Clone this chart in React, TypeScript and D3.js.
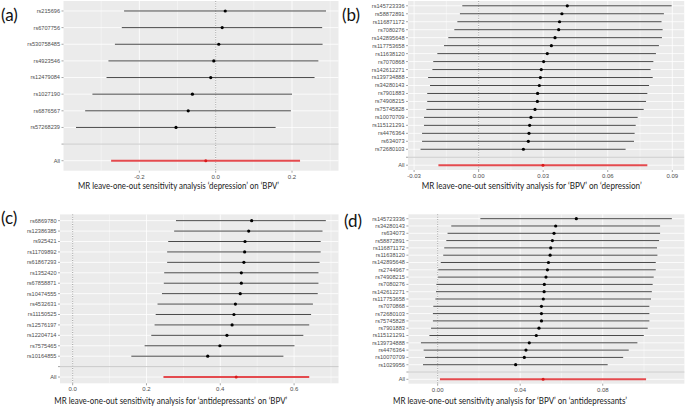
import React from "react";
import * as d3 from "d3";

// ---------- Panel (a): 'depression' on 'BPV' ----------
const aSnps = ["rs215696", "rs6707756", "rs530758485", "rs4923546", "rs12479084", "rs1027190", "rs6876567", "rs57268239"];
const aBeta = [0.025, 0.017, 0.008, -0.005, -0.013, -0.061, -0.072, -0.104];
const aLo = [-0.240, -0.246, -0.264, -0.281, -0.286, -0.323, -0.342, -0.366];
const aHi = [0.289, 0.279, 0.280, 0.269, 0.259, 0.200, 0.197, 0.157];
const aAll = [-0.026, -0.274, 0.221];
const aTicks = [-0.2, 0.0, 0.2];
const aMinor = [-0.3, -0.1, 0.1, 0.3];

// ---------- Panel (b): 'BPV' on 'depression' ----------
const bSnps = ["rs145723336", "rs58872891", "rs116871172", "rs7080276", "rs142895648", "rs117753658", "rs11638120", "rs7070868", "rs142612271", "rs139734888", "rs34280143", "rs7901883", "rs74908215", "rs75745828", "rs10070709", "rs115121291", "rs4476364", "rs634073", "rs72680103"];
const bBeta = [0.0412, 0.0387, 0.0376, 0.0372, 0.0355, 0.0338, 0.0319, 0.0302, 0.0291, 0.0287, 0.0282, 0.0274, 0.0273, 0.0262, 0.0243, 0.0237, 0.0234, 0.0231, 0.0208];
const bLo = [-0.0076, -0.0087, -0.0099, -0.0113, -0.0141, -0.0161, -0.0192, -0.0211, -0.0215, -0.0235, -0.0226, -0.0239, -0.0239, -0.0243, -0.0254, -0.0254, -0.0263, -0.0263, -0.0270];
const bHi = [0.0897, 0.0861, 0.0850, 0.0855, 0.0852, 0.0838, 0.0824, 0.0812, 0.0799, 0.0809, 0.0792, 0.0784, 0.0778, 0.0767, 0.0739, 0.0730, 0.0725, 0.0722, 0.0683];
const bAll = [0.0299, -0.0187, 0.0784];
const bTicks = [-0.03, 0.0, 0.03, 0.06, 0.09];
const bMinor = [-0.015, 0.015, 0.045, 0.075];

// ---------- Panel (c): 'antidepressants' on 'BPV' ----------
const cSnps = ["rs6869780", "rs12386385", "rs925421", "rs11709892", "rs61867293", "rs1352420", "rs67858871", "rs10474555", "rs4532631", "rs11150525", "rs12576197", "rs12204714", "rs7575465", "rs10164855"];
const cBeta = [0.485, 0.477, 0.467, 0.466, 0.464, 0.457, 0.457, 0.454, 0.441, 0.437, 0.432, 0.418, 0.399, 0.366];
const cLo = [0.280, 0.275, 0.259, 0.256, 0.256, 0.248, 0.247, 0.242, 0.230, 0.225, 0.222, 0.213, 0.195, 0.159];
const cHi = [0.686, 0.677, 0.672, 0.672, 0.669, 0.666, 0.666, 0.664, 0.651, 0.646, 0.641, 0.625, 0.601, 0.571];
const cAll = [0.443, 0.246, 0.641];
const cTicks = [0.0, 0.2, 0.4, 0.6];
const cMinor = [0.1, 0.3, 0.5, 0.7];

// ---------- Panel (d): 'BPV' on 'antidepressants' ----------
const dSnps = ["rs145723336", "rs34280143", "rs634073", "rs58872891", "rs116871172", "rs11638120", "rs142895648", "rs2744967", "rs74908215", "rs7080276", "rs142612271", "rs117753658", "rs7070868", "rs72680103", "rs75745828", "rs7901883", "rs115121291", "rs139734888", "rs4476364", "rs10070709", "rs1029956"];
const dBeta = [0.0672, 0.0572, 0.0564, 0.0556, 0.0548, 0.0545, 0.0537, 0.0532, 0.0525, 0.0517, 0.0516, 0.0512, 0.0503, 0.0503, 0.0503, 0.0491, 0.0478, 0.0444, 0.0428, 0.0420, 0.0378];
const dLo = [0.0207, 0.0066, 0.0048, 0.0042, 0.0032, 0.0027, 0.0015, 0.0003, 0.0002, -0.0006, -0.0008, -0.0011, -0.0021, -0.0023, -0.0023, -0.0032, -0.0040, -0.0081, -0.0068, -0.0061, -0.0071];
const dHi = [0.1135, 0.1078, 0.1078, 0.1073, 0.1063, 0.1065, 0.1057, 0.1057, 0.1047, 0.1042, 0.1038, 0.1034, 0.1026, 0.1026, 0.1026, 0.1018, 0.0999, 0.0968, 0.0926, 0.0899, 0.0824];
const dAll = [0.0511, 0.0011, 0.1010];
const dTicks = [0.0, 0.04, 0.08];
const dMinor = [0.02, 0.06, 0.1];

const TICK_FONT = "'Liberation Sans', Arial, sans-serif";
const TITLE_FONT = "Lato, 'Open Sans', sans-serif";

type PanelProps = {
  snps: string[]; beta: number[]; lo: number[]; hi: number[]; all: number[];
  ticks: number[]; minor: number[]; fmt: string;
  x0: number; x1: number; y0: number; y1: number;
  label: string; lx: number; ly: number;
  title: string; tx: number; ty: number; tw: number;
};

function Panel(p: PanelProps) {
  const vals = [...p.lo, ...p.hi, p.all[1], p.all[2], 0];
  const [mn, mx] = d3.extent(vals) as [number, number];
  const pad = (mx - mn) * 0.05;
  const x = d3.scaleLinear().domain([mn - pad, mx + pad]).range([p.x0, p.x1]);
  const cats = [...p.snps, "", "All"];
  const y = d3.scalePoint<string>().domain(cats).range([p.y0, p.y1]).padding(0.6);
  const f = d3.format(p.fmt);
  const fmt = (v: number) => f(v).replace("\u2212", "-");
  const yAll = y("All")!;
  const yBlank = y("")!;
  return (
    <g>
      <rect x={p.x0} y={p.y0} width={p.x1 - p.x0} height={p.y1 - p.y0} fill="#EBEBEB" />
      {p.minor.filter(v => x(v) > p.x0 && x(v) < p.x1).map(v => (
        <line key={"mn" + v} x1={x(v)} x2={x(v)} y1={p.y0} y2={p.y1} stroke="#fff" strokeWidth={0.4} />
      ))}
      {p.ticks.map(v => (
        <line key={"mj" + v} x1={x(v)} x2={x(v)} y1={p.y0} y2={p.y1} stroke="#fff" strokeWidth={0.8} />
      ))}
      {cats.map(c => (
        <line key={"h" + c} x1={p.x0} x2={p.x1} y1={y(c)} y2={y(c)} stroke="#fff" strokeWidth={0.8} />
      ))}
      <line x1={x(0)} x2={x(0)} y1={p.y0} y2={p.y1} stroke="#8a8a8a" strokeWidth={0.8} strokeDasharray="1,1.4" />
      <line x1={p.x0} x2={p.x1} y1={yBlank} y2={yBlank} stroke="#bdbdbd" strokeWidth={0.8} />
      {p.snps.map((s, i) => (
        <g key={s}>
          <line x1={x(p.lo[i])} x2={x(p.hi[i])} y1={y(s)} y2={y(s)} stroke="#404040" strokeWidth={0.95} />
          <circle cx={x(p.beta[i])} cy={y(s)} r={1.6} fill="#000" />
        </g>
      ))}
      <line x1={x(p.all[1])} x2={x(p.all[2])} y1={yAll} y2={yAll} stroke="#e44a4e" strokeWidth={1.9} />
      <circle cx={x(p.all[0])} cy={yAll} r={1.5} fill="#d91a1a" />
      {cats.map(c => (
        <g key={"yt" + c}>
          <line x1={p.x0 - 2} x2={p.x0} y1={y(c)} y2={y(c)} stroke="#4d4d4d" strokeWidth={0.5} />
          <text x={p.x0 - 3.5} y={y(c)} dy="0.35em" textAnchor="end" fontSize={5.6} fill="#4d4d4d" fontFamily={TICK_FONT}>{c}</text>
        </g>
      ))}
      {p.ticks.map(v => (
        <g key={"xt" + v}>
          <line x1={x(v)} x2={x(v)} y1={p.y1} y2={p.y1 + 2} stroke="#4d4d4d" strokeWidth={0.5} />
          <text x={x(v)} y={p.y1 + 7.8} textAnchor="middle" fontSize={6} fill="#4d4d4d" fontFamily={TICK_FONT}>{fmt(v)}</text>
        </g>
      ))}
      <text x={p.tx} y={p.ty} textAnchor="middle" fontSize={8.6} fill="#1a1a1a" fontFamily={TITLE_FONT}
        textLength={p.tw} lengthAdjust="spacingAndGlyphs">{p.title}</text>
      <text x={p.lx} y={p.ly} fontSize={17} fill="#111" fontFamily={TITLE_FONT}>{p.label}</text>
    </g>
  );
}

export default function App() {
  return (
    <svg width={685} height={408} style={{ position: "absolute", left: 0, top: 0, background: "#fff" }}>
      <Panel snps={aSnps} beta={aBeta} lo={aLo} hi={aHi} all={aAll} ticks={aTicks} minor={aMinor} fmt=".1f"
        x0={63.5} x1={338.5} y0={1} y1={170.7}
        label="(a)" lx={1} ly={21}
        title={"MR leave-one-out sensitivity analysis \u2018depression\u2019 on \u2018BPV\u2019"} tx={178.5} ty={189} tw={201} />
      <Panel snps={bSnps} beta={bBeta} lo={bLo} hi={bHi} all={bAll} ticks={bTicks} minor={bMinor} fmt=".2f"
        x0={408} x1={684.2} y0={1} y1={170}
        label="(b)" lx={342} ly={21}
        title={"MR leave-one-out  sensitivity analysis for \u2018BPV\u2019 on \u2018depression\u2019"} tx={531.7} ty={189} tw={220} />
      <Panel snps={cSnps} beta={cBeta} lo={cLo} hi={cHi} all={cAll} ticks={cTicks} minor={cMinor} fmt=".1f"
        x0={60} x1={338.5} y0={214.4} y1={383.3}
        label="(c)" lx={1} ly={224}
        title={"MR leave-one-out sensitivity analysis for \u2018antidepressants\u2019 on \u2018BPV\u2019"} tx={170.8} ty={404} tw={233} />
      <Panel snps={dSnps} beta={dBeta} lo={dLo} hi={dHi} all={dAll} ticks={dTicks} minor={dMinor} fmt=".2f"
        x0={408.4} x1={684.4} y0={214.3} y1={383.7}
        label="(d)" lx={344} ly={227}
        title={"MR leave-one-out sensitivity analysis for \u2018BPV\u2019 on \u2018antidepressants\u2019"} tx={510} ty={404} tw={234} />
    </svg>
  );
}
